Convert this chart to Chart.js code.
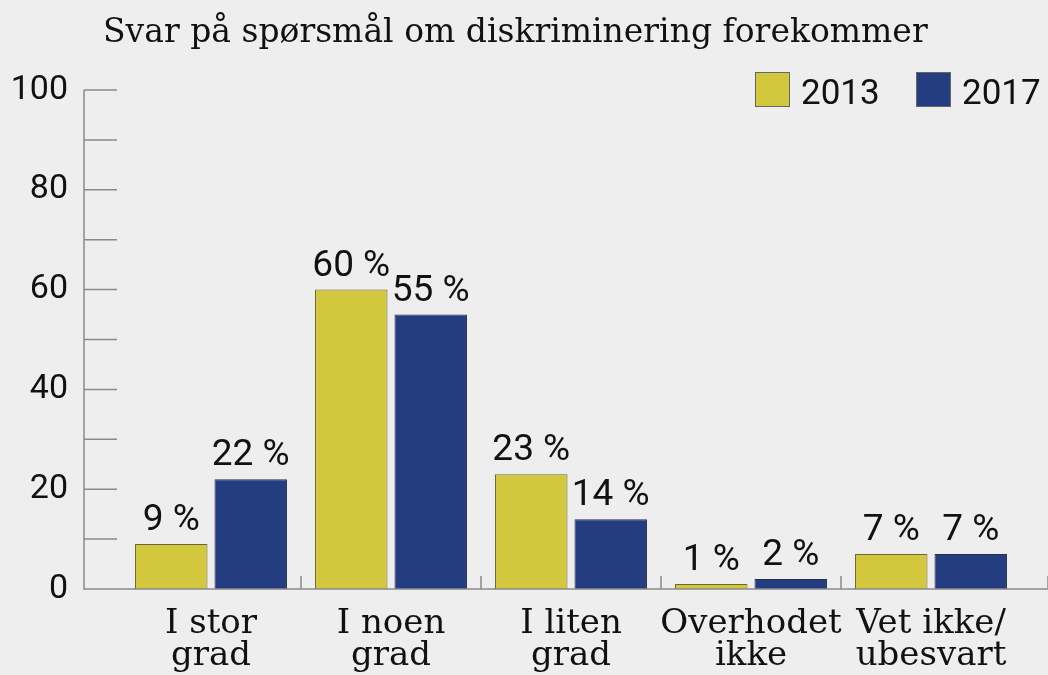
<!DOCTYPE html>
<html>
<head>
<meta charset="utf-8">
<script src="https://cdn.jsdelivr.net/npm/chart.js@4/dist/chart.umd.min.js"></script>
<style>
  html, body { margin: 0; padding: 0; background: #eeeeee; }
  #wrap { width: 1048px; height: 675px; }
</style>
</head>
<body>
<div id="wrap"><canvas id="chart" width="1048" height="675"></canvas></div>
<script>
"use strict";

const title = "Svar på spørsmål om diskriminering forekommer";
const categories = [["I stor", "grad"], ["I noen", "grad"], ["I liten", "grad"], ["Overhodet", "ikke"], ["Vet ikke/", "ubesvart"]];
const years = ["2013", "2017"];
const values2013 = [9, 60, 23, 1, 7];
const values2017 = [22, 55, 14, 2, 7];
const yTicks = [0, 20, 40, 60, 80, 100];
const yMinor = [0, 10, 20, 30, 40, 50, 60, 70, 80, 90, 100];

const colors = ["#d3c73e", "#233d80"];
const axisColor = "#8a8a8a";
const serif = "'DejaVu Serif', serif";
const sans = "Roboto, sans-serif";

// axis line, small ticks, title, legend and value labels
const decorations = {
    id: "decorations",
    afterDraw(chart) {
        const ctx = chart.ctx, area = chart.chartArea;
        const x = chart.scales.x, y = chart.scales.y;
        const axisX = area.left - 37, axisEnd = area.right + 27;
        const base = y.getPixelForValue(0);

        ctx.save();
        ctx.strokeStyle = axisColor;
        ctx.lineWidth = 1.5;
        ctx.beginPath();
        ctx.moveTo(axisX, y.getPixelForValue(100));
        ctx.lineTo(axisX, base);
        ctx.lineTo(axisEnd, base);
        yMinor.forEach(v => {
            const py = y.getPixelForValue(v);
            ctx.moveTo(axisX, py);
            ctx.lineTo(axisX + 33, py);
        });
        // separators between categories
        for (let i = 0; i < categories.length - 1; i++) {
            const px = (x.getPixelForValue(i) + x.getPixelForValue(i + 1)) / 2;
            ctx.moveTo(px, base);
            ctx.lineTo(px, base - 13);
        }
        ctx.moveTo(axisEnd, base);
        ctx.lineTo(axisEnd, base - 13);
        ctx.stroke();

        // title
        ctx.fillStyle = "#111";
        ctx.font = "33px " + serif;
        ctx.textAlign = "left";
        ctx.textBaseline = "alphabetic";
        ctx.fillText(title, 103, 42);

        // legend
        let lx = 755;
        years.forEach((yr, i) => {
            ctx.fillStyle = colors[i];
            ctx.fillRect(lx, 72, 35, 35);
            ctx.strokeStyle = "#666";
            ctx.lineWidth = 1;
            ctx.strokeRect(lx + 0.5, 72.5, 34, 34);
            ctx.fillStyle = "#111";
            ctx.font = "35px " + sans;
            ctx.fillText(yr, lx + 46, 104);
            lx += 161;
        });

        // value labels
        ctx.font = "37px " + sans;
        ctx.textAlign = "center";
        chart.data.datasets.forEach((ds, di) => {
            chart.getDatasetMeta(di).data.forEach((bar, i) => {
                ctx.fillText(ds.data[i] + " %", bar.x, bar.y - 14);
            });
        });
        ctx.restore();
    }
};

new Chart(document.getElementById("chart"), {
    type: "bar",
    data: {
        labels: categories,
        datasets: [{
            label: years[0],
            data: values2013,
            backgroundColor: colors[0],
            borderColor: "#6b6638",
            borderWidth: 1
        }, {
            label: years[1],
            data: values2017,
            backgroundColor: colors[1],
            borderColor: "#2a2f45",
            borderWidth: 1
        }]
    },
    options: {
        responsive: false,
        animation: false,
        categoryPercentage: 0.883,
        barPercentage: 0.912,
        layout: { padding: { top: 90, right: 27, left: 0, bottom: 0 } },
        plugins: {
            legend: { display: false },
            title: { display: false },
            tooltip: { enabled: false }
        },
        scales: {
            x: {
                grid: { display: false },
                border: { display: false },
                ticks: {
                    color: "#111",
                    padding: 11,
                    maxRotation: 0,
                    autoSkip: false,
                    font: { family: serif, size: 34, lineHeight: 0.95 }
                },
                afterFit(scale) { scale.height = 86; }
            },
            y: {
                min: 0,
                max: 100,
                grid: { display: false },
                border: { display: false },
                afterBuildTicks(scale) { scale.ticks = yTicks.map(v => ({ value: v })); },
                ticks: {
                    color: "#111",
                    padding: 45,
                    font: { family: sans, size: 34 }
                },
                afterFit(scale) { scale.width = 121; }
            }
        }
    },
    plugins: [decorations]
});
</script>
</body>
</html>
